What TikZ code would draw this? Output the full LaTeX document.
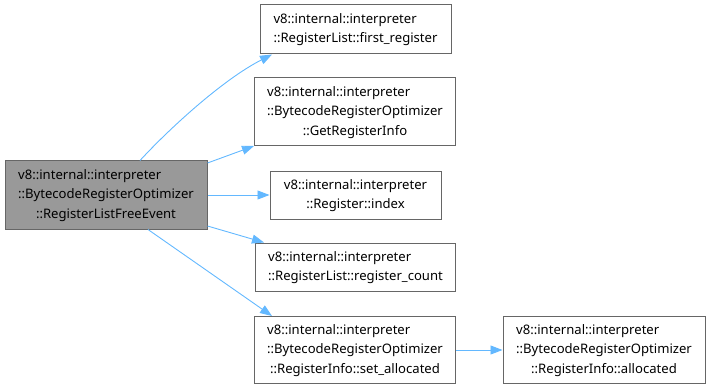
\documentclass[tikz,border=0pt]{standalone}
\usepackage{fontspec}
\setmainfont{Noto Sans}
\usetikzlibrary{arrows.meta}
\definecolor{edgeblue}{RGB}{99,184,255}
\definecolor{boxline}{RGB}{102,102,102}
\definecolor{rootfill}{RGB}{153,153,153}
% earlier lines left-justified, final line centred
\newcommand\lastline[1]{\multicolumn{1}{@{}c@{}}{#1}}
\newenvironment{lbl}{\begin{tabular}{@{}l@{}}}{\end{tabular}}
\begin{document}
\begin{tikzpicture}[x=1pt,y=-1pt,
  fn/.style={draw=boxline, line width=1pt, fill=white, align=center, inner sep=0pt,
    font=\fontsize{13.1}{19.2}\selectfont, text=black},
  rootfn/.style={fn, fill=rootfill},
  call/.style={draw=edgeblue, line width=0.9pt, -{Triangle[length=12pt,width=9pt]}}]
\useasboundingbox (0,0) rectangle (711,390);
\node[rootfn, minimum width=202, minimum height=68] (root) at (106,195)
  {\begin{lbl}v8::internal::interpreter\\::BytecodeRegisterOptimizer\\\lastline{::RegisterListFreeEvent}\end{lbl}};
\node[fn, minimum width=191, minimum height=49] (first) at (355.5,29.5)
  {\begin{lbl}v8::internal::interpreter\\\lastline{::RegisterList::first\_register}\end{lbl}};
\node[fn, minimum width=201, minimum height=68] (getinfo) at (355,112)
  {\begin{lbl}v8::internal::interpreter\\::BytecodeRegisterOptimizer\\\lastline{::GetRegisterInfo}\end{lbl}};
\node[fn, minimum width=171, minimum height=48] (index) at (355.5,195)
  {\begin{lbl}v8::internal::interpreter\\\lastline{::Register::index}\end{lbl}};
\node[fn, minimum width=200, minimum height=48] (count) at (355.5,267)
  {\begin{lbl}v8::internal::interpreter\\\lastline{::RegisterList::register\_count}\end{lbl}};
\node[fn, minimum width=201, minimum height=67] (setalloc) at (355,350)
  {\begin{lbl}v8::internal::interpreter\\::BytecodeRegisterOptimizer\\\lastline{::RegisterInfo::set\_allocated}\end{lbl}};
\node[fn, minimum width=202, minimum height=67] (alloc) at (604,350)
  {\begin{lbl}v8::internal::interpreter\\::BytecodeRegisterOptimizer\\\lastline{::RegisterInfo::allocated}\end{lbl}};
\draw[call] (root.north -| 140,0) .. controls (168,130) and (222,80) .. (first.south -| 272,0);
\draw[call] (root.east |- 0,163) -- (getinfo.west |- 0,146);
\draw[call] (root.east) -- (index.west);
\draw[call] (root.east |- 0,226) -- (count.north -| 264,0);
\draw[call] (root.south -| 148,0) -- (setalloc.north -| 272,0);
\draw[call] (setalloc.east) -- (alloc.west);
\end{tikzpicture}
\end{document}
